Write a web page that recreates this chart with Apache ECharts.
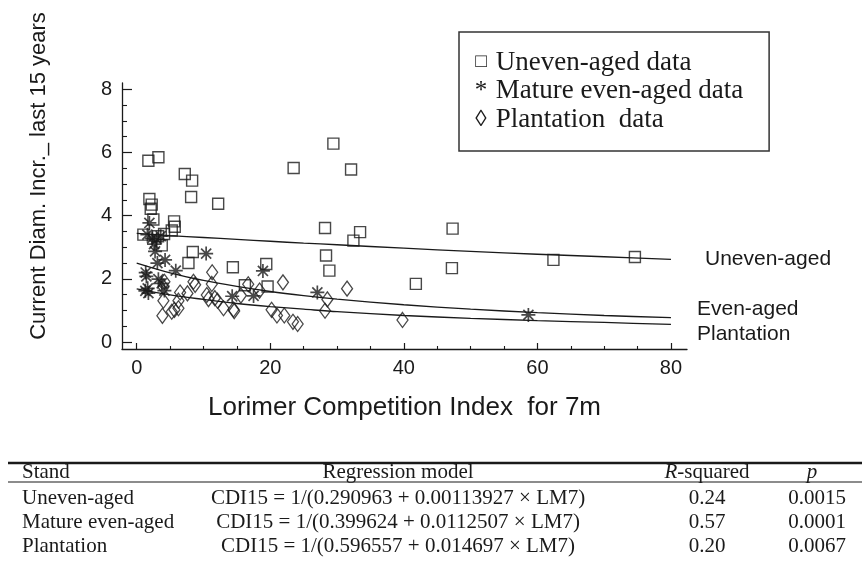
<!DOCTYPE html>
<html><head><meta charset="utf-8">
<script src="https://cdn.jsdelivr.net/npm/echarts@6/dist/echarts.min.js"></script>
<style>html,body{margin:0;padding:0;background:#fff}#c{width:862px;height:577px}</style>
</head><body><div id="c"></div>
<script>
// ---- data ----
const xTickLabels = [0, 20, 40, 60, 80];
const xMinorTicks = [5, 10, 15, 25, 30, 35, 45, 50, 55, 65, 70, 75];
const yTickLabels = [0, 2, 4, 6, 8];
const yMinorTicks = [0.5, 1, 1.5, 2.5, 3, 3.5, 4.5, 5, 5.5, 6.5, 7, 7.5];

const unevenData = [
  [1.0, 3.40], [1.75, 5.74], [3.25, 5.85], [1.9, 4.53], [2.25, 4.35], [2.1, 4.22],
  [2.5, 3.88], [3.2, 3.35], [4.1, 3.42], [5.25, 3.53], [5.6, 3.82], [5.7, 3.65],
  [3.75, 3.06], [7.2, 5.32], [8.3, 5.11], [8.15, 4.59], [12.2, 4.38], [8.4, 2.85],
  [7.75, 2.50], [14.4, 2.37], [19.4, 2.47], [19.6, 1.76], [16.2, 1.80], [23.5, 5.51],
  [29.45, 6.28], [32.1, 5.46], [28.2, 3.61], [33.45, 3.48], [32.45, 3.21], [28.35, 2.74],
  [28.85, 2.26], [47.3, 3.59], [47.2, 2.34], [41.8, 1.84], [62.4, 2.60], [74.6, 2.69]
];
const matureData = [
  [1.9, 3.77], [1.6, 3.40], [2.3, 3.28], [3.0, 3.25], [3.6, 3.35], [2.6, 3.10],
  [2.75, 2.87], [4.25, 2.60], [3.1, 2.50], [10.4, 2.80], [5.85, 2.26], [1.35, 2.20],
  [1.45, 2.08], [3.25, 1.99], [3.75, 1.86], [1.65, 1.70], [1.75, 1.55], [1.3, 1.62],
  [4.15, 1.63], [14.3, 1.45], [18.9, 2.25], [17.5, 1.46], [27.05, 1.57], [58.65, 0.86]
];
const plantationData = [
  [11.3, 2.21], [4.15, 1.91], [4.0, 1.74], [8.5, 1.91], [8.75, 1.81], [11.25, 1.84],
  [4.0, 1.31], [6.5, 1.57], [7.6, 1.54], [6.25, 1.31], [3.85, 0.83], [5.65, 1.02],
  [6.25, 1.07], [5.25, 0.96], [10.5, 1.49], [10.75, 1.36], [11.7, 1.39], [12.1, 1.31],
  [13.0, 1.07], [14.5, 1.03], [16.7, 1.83], [15.6, 1.47], [18.4, 1.63], [21.9, 1.89],
  [14.6, 0.98], [20.2, 1.02], [21.0, 0.84], [22.1, 0.84], [23.4, 0.64], [24.1, 0.57],
  [28.55, 1.35], [28.2, 0.99], [31.5, 1.69], [39.8, 0.70]
];

const curveX = [0, 5, 10, 15, 20, 25, 30, 40, 50, 60, 70, 80];
const unevenCurve = [3.44, 3.37, 3.31, 3.25, 3.19, 3.13, 3.08, 2.97, 2.87, 2.78, 2.70, 2.62];
const evenCurve = [2.50, 2.19, 1.95, 1.76, 1.60, 1.47, 1.36, 1.18, 1.04, 0.93, 0.84, 0.77];
const plantCurve = [1.68, 1.49, 1.35, 1.22, 1.12, 1.04, 0.96, 0.84, 0.75, 0.68, 0.62, 0.56];
const curveLabels = ['Uneven-aged', 'Even-aged', 'Plantation'];

const seriesNames = ['Uneven-aged data', 'Mature even-aged data', 'Plantation  data'];
const legendGlyphs = ['\u25A1', '*', '\u25CA'];

const tableHeader = ['Stand', 'Regression model', 'R-squared', 'p'];
const tableStand = ['Uneven-aged', 'Mature even-aged', 'Plantation'];
const tableModel = [
  'CDI15 = 1/(0.290963 + 0.00113927 \u00D7 LM7)',
  'CDI15 = 1/(0.399624 + 0.0112507 \u00D7 LM7)',
  'CDI15 = 1/(0.596557 + 0.014697 \u00D7 LM7)'
];
const tableR2 = ['0.24', '0.57', '0.20'];
const tableP = ['0.0015', '0.0001', '0.0067'];

// ---- chart ----
const SANS = '"Liberation Sans", Arial, Helvetica, sans-serif';
const SERIF = '"Liberation Serif", "Times New Roman", serif';
const INK = '#1a1a1a';
const asterisk = 'path://M0,-1L0,1M-1,0L1,0M-0.72,-0.72L0.72,0.72M-0.72,0.72L0.72,-0.72';

const pair = (xs, ys) => xs.map((x, i) => [x, ys[i]]);

const chart = echarts.init(document.getElementById('c'), null, {renderer: 'canvas'});

const axisCommonX = {type: 'value', min: -2.2, max: 82.4, splitLine: {show: false}};
const axisCommonY = {type: 'value', min: -0.22, max: 8.2, splitLine: {show: false}};

function curveSeries(name, ys, label, offset) {
  return {
    name, type: 'line', data: pair(curveX, ys), smooth: 0.3,
    showSymbol: false, symbol: 'none', silent: true,
    lineStyle: {color: INK, width: 1.3},
    endLabel: {show: true, formatter: label, offset, fontFamily: SANS, fontSize: 21, color: INK},
    z: 1
  };
}

const graphics = [];
const tLeft = 8, tRight = 862;
const yThick = 463, yThin = 482, yHead = 472.5, rowY = [498, 522, 546];
const colStand = 22, colModel = 398, colR2 = 707, colPc = 812, colPr = 846;
graphics.push({type: 'line', shape: {x1: tLeft, y1: yThick, x2: tRight, y2: yThick}, style: {stroke: INK, lineWidth: 2.6}});
graphics.push({type: 'line', shape: {x1: tLeft, y1: yThin, x2: tRight, y2: yThin}, style: {stroke: INK, lineWidth: 1.2}});
const TFS = 21;
const tFont = {fontFamily: SERIF, fontSize: TFS, fill: INK, verticalAlign: 'middle'};
graphics.push({type: 'text', style: Object.assign({}, tFont, {text: tableHeader[0], x: colStand, y: yHead, align: 'left'})});
graphics.push({type: 'text', style: Object.assign({}, tFont, {text: tableHeader[1], x: colModel, y: yHead, align: 'center'})});
graphics.push({type: 'text', style: Object.assign({}, tFont, {
  text: '{i|R}-squared', x: colR2, y: yHead, align: 'center',
  rich: {i: {fontStyle: 'italic', fontFamily: SERIF, fontSize: TFS}}
})});
graphics.push({type: 'text', style: Object.assign({}, tFont, {text: tableHeader[3], x: colPc, y: yHead, align: 'center', fontStyle: 'italic'})});
tableStand.forEach((s, i) => {
  graphics.push({type: 'text', style: Object.assign({}, tFont, {text: s, x: colStand, y: rowY[i], align: 'left'})});
  graphics.push({type: 'text', style: Object.assign({}, tFont, {text: tableModel[i], x: colModel, y: rowY[i], align: 'center'})});
  graphics.push({type: 'text', style: Object.assign({}, tFont, {text: tableR2[i], x: colR2, y: rowY[i], align: 'center'})});
  graphics.push({type: 'text', style: Object.assign({}, tFont, {text: tableP[i], x: colPr, y: rowY[i], align: 'right'})});
});

chart.setOption({
  animation: false,
  backgroundColor: '#fff',
  grid: {left: 122, right: 175, top: 83, bottom: 228, containLabel: false},
  legend: {
    show: true, orient: 'vertical', left: 459, top: 32,
    icon: 'none', itemWidth: 1, itemHeight: 20, itemGap: 1.5,
    padding: [17, 26, 18, 8],
    borderColor: '#333', borderWidth: 1.5,
    data: seriesNames,
    selectedMode: false,
    formatter: n => {
      const i = seriesNames.indexOf(n);
      return '{g' + i + '|' + legendGlyphs[i] + '} ' + n;
    },
    textStyle: {
      fontFamily: SERIF, fontSize: 27, color: INK, lineHeight: 27,
      rich: {
        g0: {fontFamily: SERIF, fontSize: 19, color: INK, width: 16, align: 'center'},
        g1: {fontFamily: SERIF, fontSize: 25, color: INK, width: 16, align: 'center'},
        g2: {fontFamily: SERIF, fontSize: 23, color: INK, width: 16, align: 'center'}
      }
    }
  },
  xAxis: [
    Object.assign({}, axisCommonX, {
      position: 'bottom',
      axisLine: {show: true, onZero: false, lineStyle: {color: INK, width: 1.3}},
      axisTick: {show: true, inside: true, length: 6, customValues: xTickLabels, lineStyle: {color: INK, width: 1.2}},
      axisLabel: {show: true, customValues: xTickLabels, fontFamily: SANS, fontSize: 20, color: INK, margin: 9},
      name: 'Lorimer Competition Index  for 7m', nameLocation: 'middle', nameGap: 46,
      nameTextStyle: {fontFamily: SANS, fontSize: 26, color: INK}
    }),
    Object.assign({}, axisCommonX, {
      position: 'bottom',
      axisLine: {show: false, onZero: false},
      axisTick: {show: true, inside: true, length: 3, customValues: xMinorTicks, lineStyle: {color: INK, width: 1.1}},
      axisLabel: {show: false}
    })
  ],
  yAxis: [
    Object.assign({}, axisCommonY, {
      position: 'left',
      axisLine: {show: true, onZero: false, lineStyle: {color: INK, width: 1.3}},
      axisTick: {show: true, inside: true, length: 10, customValues: yTickLabels, lineStyle: {color: INK, width: 1.2}},
      axisLabel: {show: true, customValues: yTickLabels, fontFamily: SANS, fontSize: 20, color: INK, margin: 10},
      name: 'Current Diam. Incr._ last 15 years', nameLocation: 'middle', nameGap: 72, nameRotate: 90,
      nameTextStyle: {fontFamily: SANS, fontSize: 22, color: INK, padding: [0, 0, 0, 80]}
    }),
    Object.assign({}, axisCommonY, {
      position: 'left',
      axisLine: {show: false, onZero: false},
      axisTick: {show: true, inside: true, length: 5, customValues: yMinorTicks, lineStyle: {color: INK, width: 1.1}},
      axisLabel: {show: false}
    })
  ],
  series: [
    {
      name: seriesNames[0], type: 'scatter', data: unevenData, symbol: 'rect', symbolSize: 11,
      itemStyle: {color: 'rgba(255,255,255,0)', borderColor: INK, borderWidth: 1.4}, z: 3
    },
    {
      name: seriesNames[1], type: 'scatter', data: matureData, symbol: asterisk, symbolSize: 14,
      itemStyle: {color: 'rgba(255,255,255,0)', borderColor: INK, borderWidth: 1.7}, z: 4
    },
    {
      name: seriesNames[2], type: 'scatter', data: plantationData, symbol: 'diamond', symbolSize: [11, 15],
      itemStyle: {color: 'rgba(255,255,255,0)', borderColor: INK, borderWidth: 1.3}, z: 3
    },
    curveSeries('c1', unevenCurve, curveLabels[0], [26, 0]),
    curveSeries('c2', evenCurve, curveLabels[1], [18, -9]),
    curveSeries('c3', plantCurve, curveLabels[2], [18, 10])
  ],
  graphic: graphics
});
</script>
</body></html>
